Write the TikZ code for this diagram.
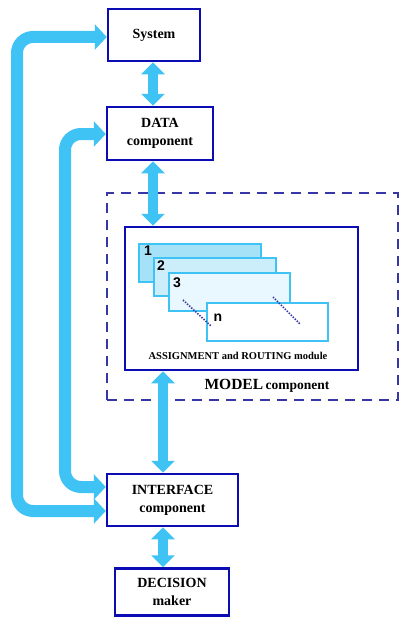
\documentclass[tikz,border=0pt]{standalone}
\usepackage{fontspec}
\setmainfont{Liberation Serif}
\newfontfamily\numfont{Liberation Sans}
\usetikzlibrary{arrows.meta,calc}
\definecolor{arrowblue}{HTML}{3FC3F4}
\definecolor{boxblue}{HTML}{0C0CB4}
\definecolor{dashblue}{HTML}{3636A6}
\definecolor{sheetA}{HTML}{A6E2F7}
\definecolor{sheetB}{HTML}{CCEEFB}
\definecolor{sheetC}{HTML}{E9F8FE}
\tikzset{
  mainbox/.style={draw=boxblue, line width=2.5pt, fill=white, inner sep=0pt, align=center,
    font=\bfseries\fontsize{14}{18}\selectfont},
  sheet/.style={draw=arrowblue, line width=2pt, inner sep=0pt, anchor=north west},
  dblarrow/.style={draw=arrowblue, line width=10pt,
    {Triangle[width=23pt,length=12pt]}-{Triangle[width=23pt,length=12pt]}},
  loopar/.style={draw=arrowblue, line width=12pt, rounded corners=16pt,
    {Triangle[width=25pt,length=12pt]}-{Triangle[width=25pt,length=12pt]}},
  numlabel/.style={font=\numfont\bfseries\fontsize{14}{16}\selectfont, inner sep=0pt},
  dotline/.style={draw=dashblue, line width=1.6pt, dash pattern=on 1.4pt off 1.4pt}
}
\begin{document}
\begin{tikzpicture}[x=1pt,y=-1pt]
\useasboundingbox (0,0) rectangle (401,618);
% main boxes
\node[mainbox, minimum width=92pt, minimum height=52pt] (sys) at (154,35) {System};
\node[mainbox, minimum width=106pt, minimum height=53pt] (data) at (160,133.5) {DATA\\component};
\node[draw=dashblue, line width=2pt, dash pattern=on 10pt off 7pt, minimum width=291pt, minimum height=207pt, inner sep=0pt] (model) at (252.5,296.5) {};
\node[draw=boxblue, line width=2.5pt, minimum width=233pt, minimum height=143pt, inner sep=0pt] (module) at (241.5,298.5) {};
\node[mainbox, minimum width=131pt, minimum height=52pt] (iface) at (172.5,500) {INTERFACE\\component};
\node[mainbox, minimum width=114pt, minimum height=47pt] (dec) at (172,592) {DECISION\\maker};
% sheets
\node[sheet, fill=sheetA, minimum width=122pt, minimum height=38pt] (s1) at (138,243) {};
\node[sheet, fill=sheetB, minimum width=122pt, minimum height=38pt] (s2) at (153,257) {};
\node[sheet, fill=sheetC, minimum width=121pt, minimum height=38pt] (s3) at (168,272) {};
\node[sheet, fill=white, minimum width=121pt, minimum height=38pt] (sn) at (206,302) {};
\node[numlabel] (n1) at (148,251) {1};
\node[numlabel] (n2) at (161,266) {2};
\node[numlabel] (n3) at (177,283) {3};
\node[numlabel] (nn) at (218,318) {n};
\coordinate (d1a) at (183,300);
\coordinate (d1b) at (211,326);
\coordinate (d2a) at (273,297);
\coordinate (d2b) at (300,324);
\draw[dotline] (d1a) -- (d1b);
\draw[dotline] (d2a) -- (d2b);
% labels
\node[font=\bfseries\fontsize{10.5}{12}\selectfont, inner sep=0pt] (modlabel) at (238,355.5) {ASSIGNMENT and ROUTING module};
\node[font=\bfseries, inner sep=0pt] (modellabel) at (267,386) {{\fontsize{15.5}{16}\selectfont MODEL} {\fontsize{13.5}{16}\selectfont component}};
% vertical arrows
\coordinate (ax1) at (153,0);
\coordinate (ax2) at (163,0);
\draw[dblarrow] (ax1 |- sys.south) -- (ax1 |- data.north);
\draw[dblarrow] (ax1 |- data.south) -- (ax1 |- module.north);
\draw[dblarrow] (ax2 |- module.south) -- (ax2 |- iface.north);
\draw[dblarrow] (ax2 |- iface.south) -- (ax2 |- dec.north);
% loop arrows
\coordinate (o1) at (17,511);
\coordinate (o2) at (17,37);
\coordinate (i1) at (65,487);
\coordinate (i2) at (65,134);
\draw[loopar] (o1 -| iface.west) -- (o1) -- (o2) -- (o2 -| sys.west);
\draw[loopar] (i1 -| iface.west) -- (i1) -- (i2) -- (i2 -| data.west);
\end{tikzpicture}
\end{document}
